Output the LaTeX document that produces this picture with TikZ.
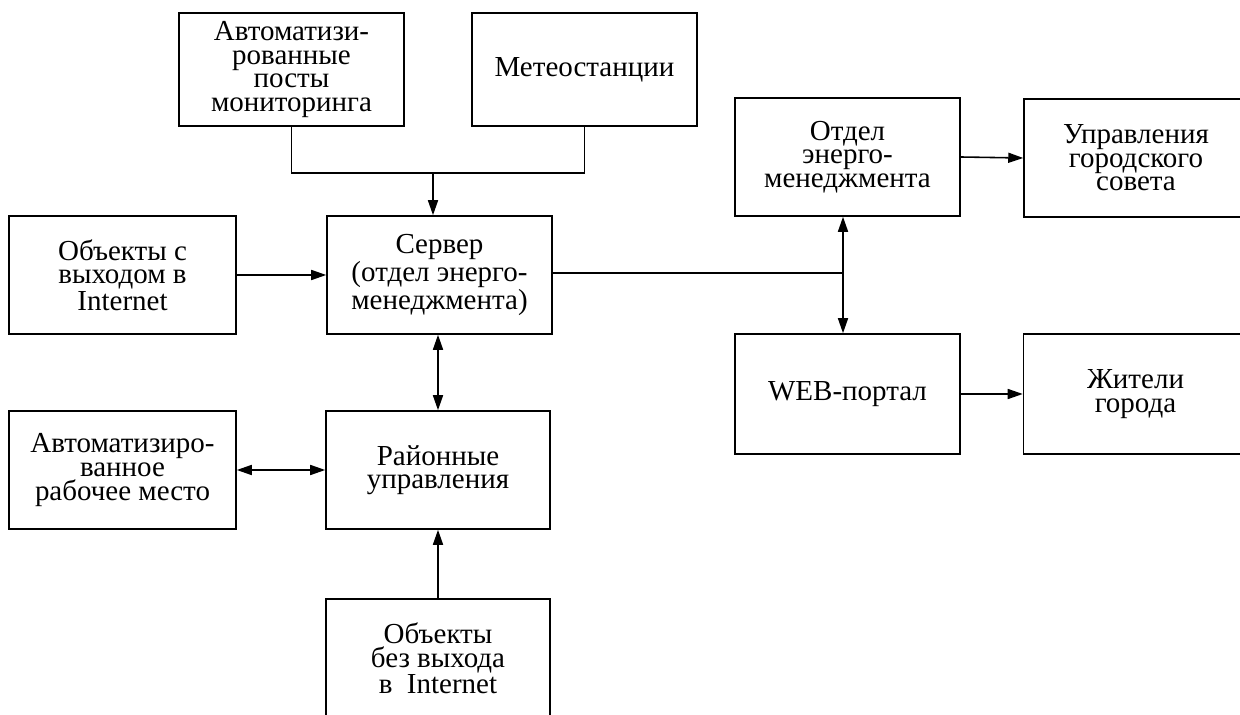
\documentclass[tikz,border=0pt]{standalone}
\usepackage{fontspec}
\setmainfont{Liberation Serif}
\usetikzlibrary{arrows.meta,calc}

\begin{document}
\begin{tikzpicture}[
    x=0.02cm, y=-0.02cm,
    font=\fontsize{16.5}{13.4}\selectfont,
    box/.style={draw, line width=0.9pt, align=center, inner sep=0pt, minimum width=4.5cm, minimum height=2.36cm},
    arrow/.style={-{Triangle[length=0.3cm, width=0.2cm]}, line width=0.9pt},
    dblarrow/.style={{Triangle[length=0.3cm, width=0.2cm]}-{Triangle[length=0.3cm, width=0.2cm]}, line width=0.9pt}
]
  \useasboundingbox (0,0) rectangle (1240,715);

  % =========================================================================
  % ИСТОЧНИКИ ДАННЫХ
  % =========================================================================
  \node[box, minimum height=2.26cm] (n_posts) at (291.5, 69.5) {Автоматизи-\\рованные\\посты\\мониторинга};
  \node[box, minimum height=2.26cm] (n_meteo) at (584.5, 69.5) {Метеостанции};

  \node[box, minimum width=4.54cm] (n_obj_in) at (122.5, 275) {Объекты с\\выходом в\\Internet};

  % Сервер
  \node[box] (n_server) at (439.5, 275) {Сервер\\(отдел энерго-\\менеджмента)};

  % =========================================================================
  % РАЙОННЫЙ УРОВЕНЬ
  % =========================================================================
  \node[box, minimum width=4.54cm] (n_arm) at (122.5, 470) {Автоматизиро-\\ванное\\рабочее место};
  \node[box, minimum width=4.48cm] (n_district) at (438, 470) {Районные\\управления};
  \node[box, minimum width=4.48cm, minimum height=2.38cm] (n_obj_out) at (438, 658.5) {Объекты\\без выхода\\в~~Internet};

  % =========================================================================
  % ПОТРЕБИТЕЛИ ИНФОРМАЦИИ
  % =========================================================================
  \node[box] (n_dept) at (847.5, 157) {Отдел\\энерго-\\менеджмента};
  \node[box, minimum width=4.48cm] (n_council) at (1136, 158) {Управления\\городского\\совета};

  \node[box, minimum height=2.4cm] (n_web) at (847.5, 394) {WEB-портал};
  \node[box, minimum width=4.48cm, minimum height=2.4cm] (n_citizens) at (1135.5, 394) {Жители\\города};

  % Связи
  \coordinate (j_top) at (433, 173);
  \coordinate (j_right) at (843, 273);

  \draw[line width=0.9pt] (n_posts.south) |- (j_top) -| (n_meteo.south);
  \draw[arrow] (j_top) -- (j_top |- n_server.north);

  \draw[arrow] (n_obj_in.east) -- (n_server.west);
  \draw[dblarrow] (n_server.south -| n_district) -- (n_district.north);
  \draw[dblarrow] (n_arm.east) -- (n_district.west);
  \draw[arrow] (n_obj_out.north) -- (n_district.south);

  \draw[line width=0.9pt] (n_server.east |- j_right) -- (j_right);
  \draw[dblarrow] (j_right |- n_dept.south) -- (j_right |- n_web.north);

  \draw[arrow] (n_dept.east) -- (n_council.west);
  \draw[arrow] (n_web.east) -- (n_citizens.west);

\end{tikzpicture}
\end{document}
